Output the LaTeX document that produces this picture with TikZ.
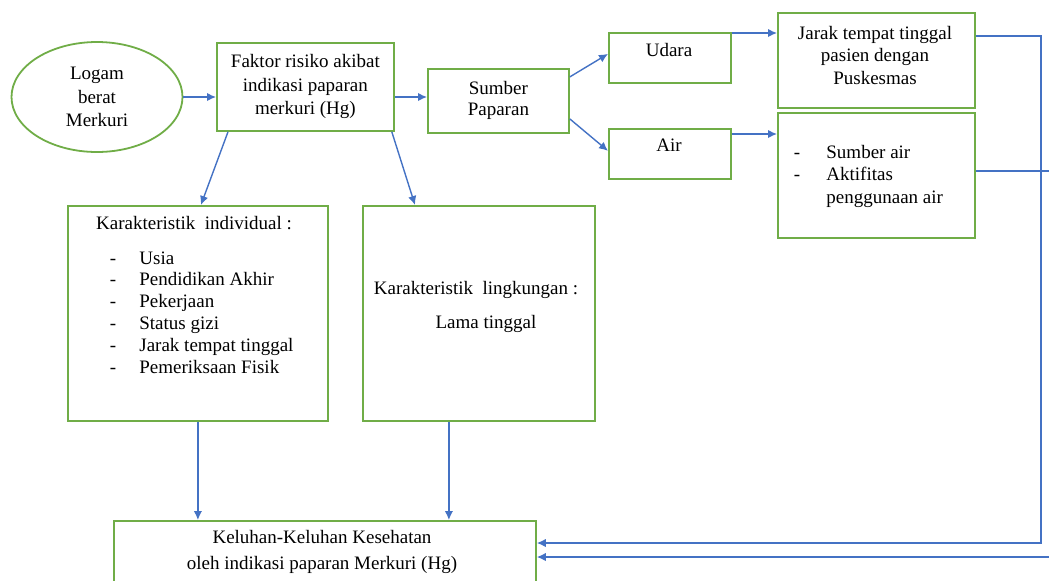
\documentclass[tikz,border=0pt]{standalone}
\usepackage{fontspec}
\setmainfont{Liberation Serif}
\usetikzlibrary{arrows.meta,positioning,calc,shapes.geometric}
\definecolor{green1}{HTML}{70AD47}
\definecolor{blue1}{HTML}{4472C4}

\begin{document}
\begin{tikzpicture}[x=0.5pt,y=-0.5pt,
    box/.style={draw=green1,line width=0.9pt,anchor=north west,inner sep=0pt,
                align=center,font=\fontsize{9.5}{11.75}\selectfont},
    txt/.style={inner sep=0pt,font=\fontsize{9.5}{11.25}\selectfont},
    arr/.style={blue1,line width=0.7pt,-{Latex[length=4.5pt,width=4.2pt]}}]
  \useasboundingbox (0,0) rectangle (1049,580);
  % source and risk factor
  \node[ellipse,draw=green1,line width=0.9pt,minimum width=85.5pt,minimum height=55pt,
        inner sep=0pt,align=center,font=\fontsize{9.5}{11.75}\selectfont]
        (ell) at (97,97) {Logam\\berat\\Merkuri};
  \node[box,minimum width=88.5pt,minimum height=44pt] (fak) at (216,42)
       {Faktor risiko akibat\\indikasi paparan\\merkuri (Hg)};
  \node[box,minimum width=70.5pt,minimum height=32pt,
        font=\fontsize{9.5}{10.5}\selectfont] (sum) at (427,68) {Sumber\\Paparan};
  % exposure paths
  \node[box,minimum width=61pt,minimum height=25pt] (uda) at (608,32) {};
  \node[txt,anchor=base] (udat) at (669,56) {Udara};
  \node[box,minimum width=61pt,minimum height=25pt] (air) at (608,128) {};
  \node[txt,anchor=base] (airt) at (669,151) {Air};
  \node[box,minimum width=98.5pt,minimum height=47.5pt] (jar) at (777,12) {};
  \node[txt,align=center] (jart) at (875,55)
       {Jarak tempat tinggal\\pasien dengan\\Puskesmas};
  \node[box,minimum width=98.5pt,minimum height=62.5pt] (sa) at (777,112) {};
  \node[txt,anchor=base] (sad1) at (797,158) {-};
  \node[txt,anchor=base west] (sat1) at (826,158) {Sumber air};
  \node[txt,anchor=base] (sad2) at (797,180.5) {-};
  \node[txt,anchor=base west] (sat2) at (826,180.5) {Aktifitas};
  \node[txt,anchor=base west] (sat3) at (826,203) {penggunaan air};
  % characteristics
  \node[box,minimum width=130pt,minimum height=107.5pt] (ki) at (67,205) {};
  \node[txt,anchor=base] (kit) at (194,229) {Karakteristik\ \ individual :};
  \foreach \entry [count=\i] in {Usia,Pendidikan Akhir,Pekerjaan,Status gizi,
                                 Jarak tempat tinggal,Pemeriksaan Fisik}{
    \node[txt,anchor=base] (kid\i) at (113,{264+21.8*(\i-1)}) {-};
    \node[txt,anchor=base west] (kie\i) at (139,{264+21.8*(\i-1)}) {\entry};}
  \node[box,minimum width=116pt,minimum height=107.5pt] (lk) at (362,205) {};
  \node[txt,anchor=base] (lkt) at (476,294) {Karakteristik\ \ lingkungan :};
  \node[txt,anchor=base] (lkl) at (486,328) {Lama tinggal};
  % outcome
  \node[box,minimum width=211pt,minimum height=40pt] (kel) at (113,520) {};
  \node[txt,anchor=base] (kel1) at (322,543) {Keluhan-Keluhan Kesehatan};
  \node[txt,anchor=base] (kel2) at (322,569) {oleh indikasi paparan Merkuri (Hg)};
  \coordinate (rj) at (1041,36);
  \coordinate (rs) at (1052,171);
  \coordinate (lkb) at ($(lk.south)+(-30,0)$);
  % connectors
  \draw[arr] (ell.east) -- (ell.east -| fak.west);
  \draw[arr] (fak.east |- ell.east) -- (sum.west |- ell.east);
  \draw[arr] ($(sum.east)+(0,-24)$) -- ($(uda.west)+(0,-4)$);
  \draw[arr] ($(sum.east)+(0,18)$) -- ($(air.west)+(0,-3)$);
  \draw[arr] ($(uda.north east)+(0,1)$) -- ($(uda.north east -| jar.west)+(0,1)$);
  \draw[arr] ($(air.north east)+(0,6)$) -- ($(air.north east -| sa.west)+(0,6)$);
  \draw[arr] ($(fak.south west)+(12,0)$) -- ($(ki.north)+(3,0)$);
  \draw[arr] ($(fak.south east)+(-3,0)$) -- ($(lk.north west)+(53,0)$);
  \draw[arr] (ki.south) -- (ki.south |- kel.north);
  \draw[arr] (lkb) -- (lkb |- kel.north);
  \draw[arr] (rj -| jar.east) -- (rj) |- ($(kel.north east)+(0,23)$);
  \draw[arr] (rs -| sa.east) -- (rs) |- ($(kel.north east)+(0,37)$);
\end{tikzpicture}
\end{document}
